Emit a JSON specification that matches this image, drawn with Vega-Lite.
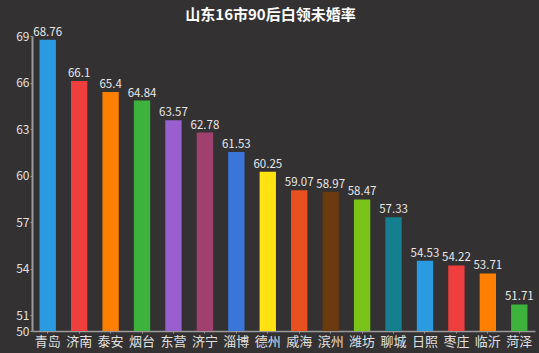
{
  "$schema": "https://vega.github.io/schema/vega-lite/v6.json",
  "width": 503,
  "height": 295,
  "autosize": {"type": "none"},
  "padding": {"left": 32, "top": 36, "right": 4, "bottom": 22},
  "background": "#333132",
  "title": {
    "text": "山东16市90后白领未婚率",
    "color": "#ffffff",
    "font": "Noto Sans CJK SC",
    "fontSize": 15,
    "fontWeight": "bold",
    "anchor": "middle",
    "dx": -13,
    "offset": 4
  },
  "data": {
    "values": [
      {"city": "青岛", "rate": 68.76, "color": "#2a9be0"},
      {"city": "济南", "rate": 66.1, "color": "#ef3e3e"},
      {"city": "泰安", "rate": 65.4, "color": "#ff8000"},
      {"city": "烟台", "rate": 64.84, "color": "#3db33d"},
      {"city": "东营", "rate": 63.57, "color": "#9a5fcf"},
      {"city": "济宁", "rate": 62.78, "color": "#a0406f"},
      {"city": "淄博", "rate": 61.53, "color": "#3a76d9"},
      {"city": "德州", "rate": 60.25, "color": "#ffe212"},
      {"city": "威海", "rate": 59.07, "color": "#e85020"},
      {"city": "滨州", "rate": 58.97, "color": "#6b3a10"},
      {"city": "潍坊", "rate": 58.47, "color": "#7ac41a"},
      {"city": "聊城", "rate": 57.33, "color": "#147f8f"},
      {"city": "日照", "rate": 54.53, "color": "#2a9be0"},
      {"city": "枣庄", "rate": 54.22, "color": "#ef3e3e"},
      {"city": "临沂", "rate": 53.71, "color": "#ff8000"},
      {"city": "菏泽", "rate": 51.71, "color": "#3db33d"}
    ]
  },
  "config": {
    "view": {"stroke": null},
    "axis": {"grid": false, "labelFont": "Noto Sans CJK SC", "labelColor": "#e0e0e0", "domainColor": "#9a9a9a", "tickColor": "#9a9a9a", "title": null}
  },
  "encoding": {
    "x": {
      "field": "city",
      "type": "nominal",
      "sort": null,
      "scale": {"paddingInner": 0.48, "paddingOuter": 0.24},
      "axis": {"labelAngle": 0, "labelFontSize": 13, "tickSize": 2, "labelPadding": 2, "domainWidth": 1.5}
    },
    "y": {
      "field": "rate",
      "type": "quantitative",
      "scale": {"domain": [50, 69], "zero": false, "nice": false},
      "axis": {"values": [50, 51, 54, 57, 60, 63, 66, 69], "labelFontSize": 12, "tickSize": 2, "labelPadding": 1, "domainWidth": 2}
    }
  },
  "layer": [
    {
      "mark": {"type": "bar", "clip": true},
      "encoding": {"color": {"field": "color", "type": "nominal", "scale": null}}
    },
    {
      "mark": {"type": "text", "baseline": "bottom", "dy": -2, "fontSize": 11.5, "font": "Noto Sans CJK SC", "color": "#e8e8e8"},
      "encoding": {"text": {"field": "rate", "type": "quantitative"}}
    }
  ]
}
